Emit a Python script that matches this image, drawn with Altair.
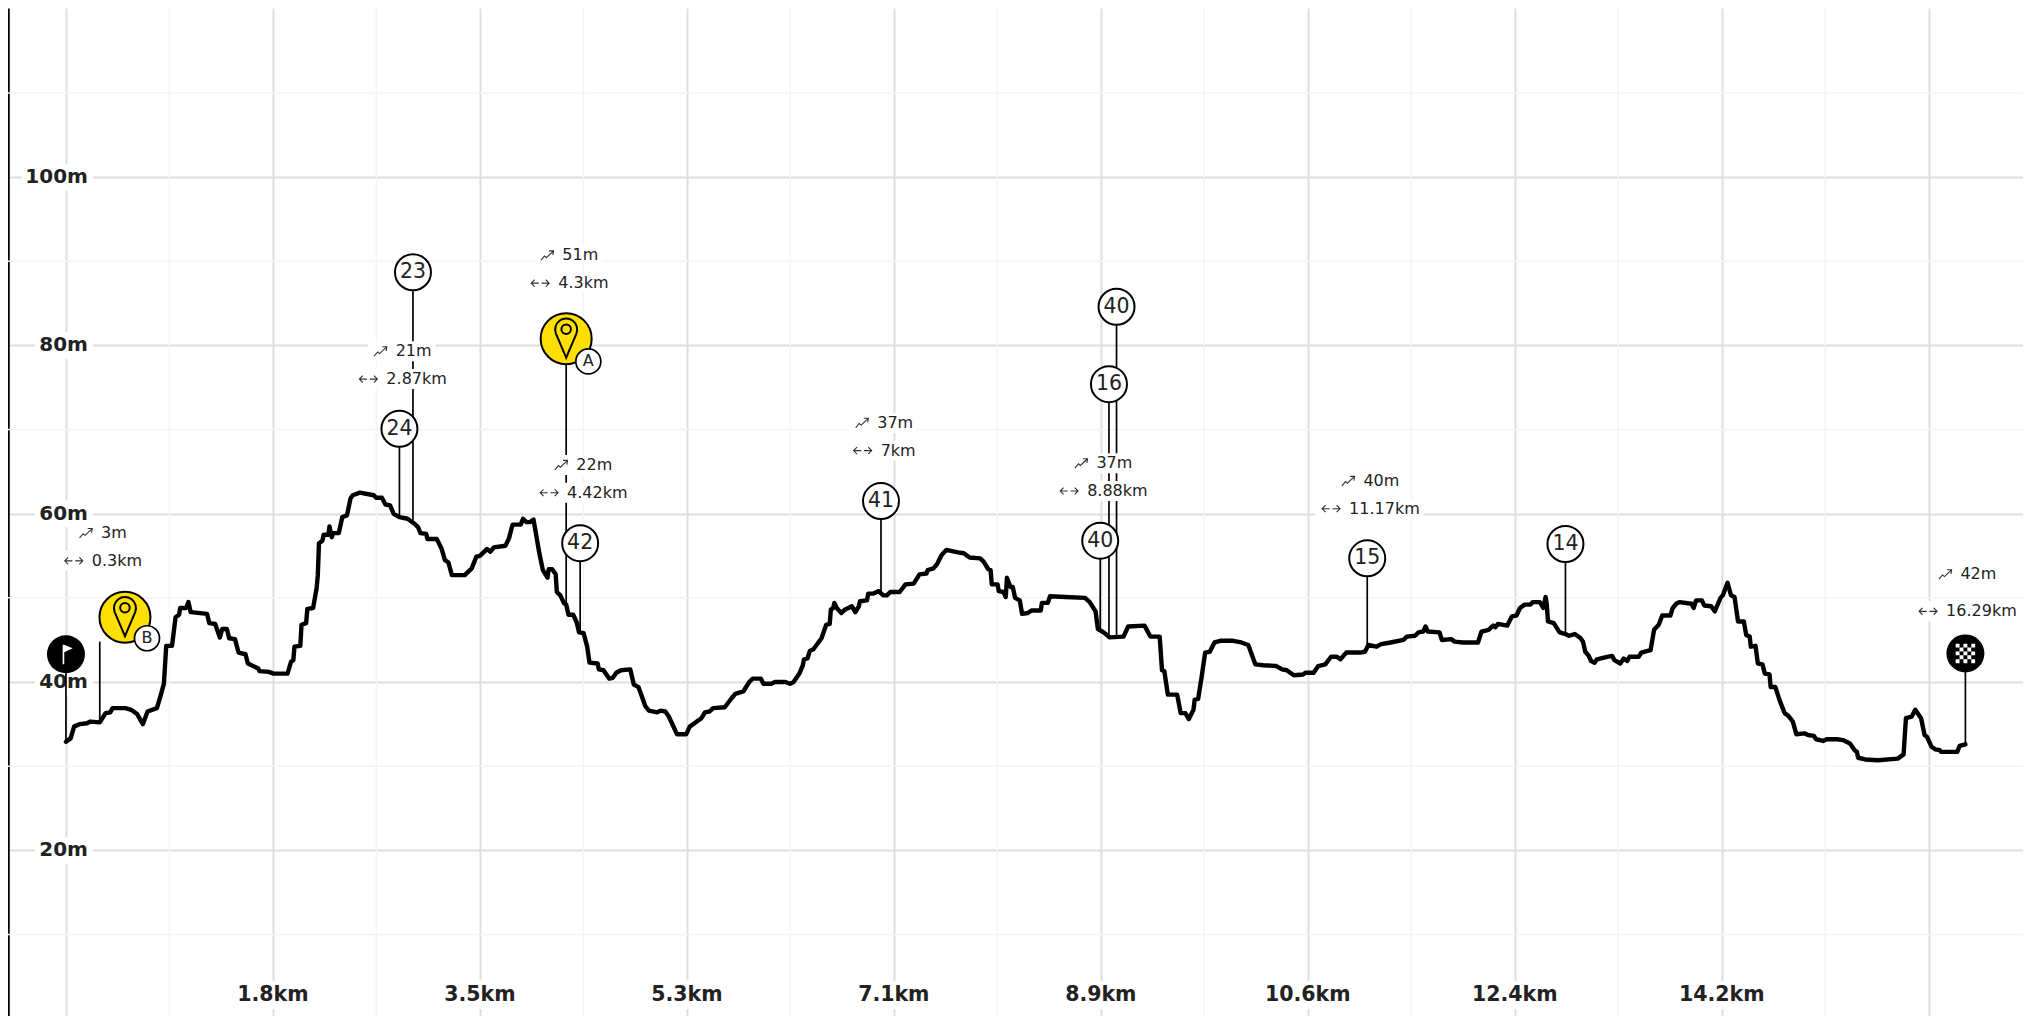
import altair as alt
import pandas as pd

FONT = "DejaVu Sans"
INK = "#222222"

# ---- elevation profile: distance (km) and elevation (m) ----
profile_km = [
0,.04,.07,.12,.18,.21,.29,.34,.38,.40,.51,.56,.61,.66,.70,.78,.81,.84,.86,.91,.94,.97,.98,1.03,1.05,1.07,1.21,1.23,1.28,1.32,1.34,1.38,1.40,1.45,1.48,1.54,1.56,1.65,1.66,1.74,1.78,1.90,1.93,1.95,1.96,2.01,2.02,2.06,2.07,2.12,2.15,2.16,2.17,2.20,2.21,2.25,2.26,2.28,2.29,2.34,2.37,2.41,2.44,2.46,2.52,2.64,2.66,2.71,2.74,2.78,2.81,2.86,2.93,2.98,3.02,3.04,3.09,3.10,3.18,3.22,3.25,3.28,3.31,3.42,3.48,3.52,3.55,3.61,3.64,3.67,3.77,3.80,3.83,3.90,3.92,3.95,3.98,4.01,4.03,4.06,4.09,4.13,4.14,4.17,4.20,4.21,4.24,4.27,4.29,4.31,4.35,4.38,4.40,4.44,4.47,4.49,4.56,4.57,4.61,4.66,4.69,4.72,4.76,4.84,4.87,4.91,4.97,5.0,5.07,5.10,5.14,5.17,5.24,5.32,5.35,5.41,5.45,5.48,5.52,5.55,5.65,5.71,5.74,5.81,5.86,5.89,5.96,5.98,6.05,6.08,6.17,6.21,6.24,6.27,6.29,6.32,6.33,6.36,6.38,6.41,6.48,6.52,6.55,6.56,6.58,6.59,6.61,6.65,6.68,6.74,6.77,6.80,6.81,6.87,6.88,6.92,6.97,7.01,7.04,7.07,7.15,7.20,7.27,7.32,7.38,7.39,7.44,7.47,7.51,7.55,7.65,7.70,7.75,7.84,7.87,7.91,7.93,7.94,7.99,8.0,8.04,8.06,8.07,8.10,8.12,8.14,8.18,8.20,8.25,8.28,8.36,8.37,8.42,8.44,8.57,8.74,8.78,8.83,8.85,8.90,8.95,9.07,9.11,9.25,9.30,9.38,9.40,9.42,9.45,9.53,9.56,9.60,9.63,9.67,9.68,9.71,9.74,9.77,9.81,9.85,9.90,10.01,10.08,10.14,10.20,10.27,10.38,10.43,10.47,10.53,10.61,10.63,10.70,10.74,10.80,10.85,10.90,10.93,10.98,11.10,11.14,11.17,11.24,11.28,11.36,11.47,11.50,11.57,11.60,11.64,11.66,11.68,11.78,11.80,11.88,11.91,11.98,12.11,12.14,12.20,12.24,12.26,12.28,12.36,12.40,12.44,12.47,12.51,12.56,12.58,12.64,12.67,12.69,12.70,12.71,12.76,12.81,12.86,12.89,12.94,12.99,13.01,13.03,13.06,13.08,13.11,13.13,13.19,13.26,13.28,13.33,13.36,13.39,13.41,13.49,13.51,13.59,13.62,13.66,13.69,13.76,13.78,13.81,13.84,13.94,13.96,13.98,14.03,14.05,14.11,14.14,14.19,14.21,14.25,14.28,14.31,14.34,14.39,14.41,14.44,14.45,14.49,14.51,14.55,14.57,14.61,14.62,14.66,14.70,14.74,14.77,14.81,14.84,14.91,14.94,14.99,15.01,15.07,15.10,15.19,15.24,15.30,15.34,15.36,15.37,15.43,15.54,15.71,15.76,15.78,15.83,15.86,15.89,15.91,15.94,15.96,16.0,16.03,16.07,16.08,16.22,16.24,16.29]
profile_m = [
32.9,33.3,34.7,35.0,35.1,35.3,35.2,36.3,36.4,36.9,36.9,36.7,36.2,35.0,36.5,36.9,38.3,39.8,44.3,44.3,47.7,48.0,48.8,48.8,49.5,48.3,48.1,47.0,46.9,45.3,46.3,46.3,45.2,45.1,43.5,43.3,42.2,41.6,41.3,41.2,41.0,41.0,42.4,42.6,44.2,44.3,46.8,47.0,48.7,48.8,51.2,52.7,56.5,56.8,57.5,57.5,58.5,57.2,57.7,57.7,59.6,59.8,61.8,62.2,62.5,62.2,61.9,61.9,61.1,61.0,60.0,59.6,59.4,58.9,58.4,57.7,57.6,57.0,57.0,55.9,54.5,54.2,52.7,52.7,53.5,54.9,55.0,55.8,55.5,56.0,56.2,57.1,58.7,58.7,59.4,59.0,59.0,59.3,57.7,55.3,53.3,52.4,53.4,53.4,52.8,50.7,50.3,49.4,49.2,48.0,48.0,47.1,45.9,45.8,44.2,42.3,42.2,41.5,41.4,40.4,40.5,41.1,41.4,41.5,39.7,39.4,37.1,36.6,36.4,36.6,36.5,35.9,33.8,33.8,34.7,35.3,35.7,36.4,36.5,36.9,37.0,38.1,38.6,38.9,40.0,40.4,40.4,39.8,39.8,40.0,40.0,39.8,40.0,40.6,41.0,42.0,42.7,42.8,43.7,43.9,45.2,46.8,46.9,48.6,48.8,49.4,48.8,48.2,48.6,49.0,48.3,49.0,49.6,49.7,50.5,50.5,50.8,50.3,50.3,50.7,50.7,51.6,51.7,52.8,52.9,53.3,53.5,54.0,55.1,55.7,55.4,55.3,54.8,54.7,54.3,53.4,53.3,51.6,51.6,50.8,50.7,50.1,52.4,51.3,51.3,50.0,49.7,48.1,48.2,48.5,48.5,49.4,49.4,50.2,50.1,50.0,49.5,48.4,46.3,45.9,45.3,45.4,46.6,46.7,45.4,45.4,41.4,41.3,38.5,38.5,36.3,36.3,35.6,36.7,37.9,38.0,40.6,43.5,43.6,44.7,44.9,44.9,44.7,44.4,42.1,42.0,41.9,41.5,41.4,40.8,40.9,41.1,41.1,41.9,42.1,43.0,43.0,42.7,43.5,43.5,43.6,44.4,44.2,44.5,44.7,45.0,45.4,45.5,45.9,46.0,46.6,46.0,45.9,45.0,45.1,44.8,44.7,44.7,46.0,46.2,46.7,46.5,46.9,46.7,47.8,47.9,48.8,49.2,49.2,49.5,49.5,48.8,50.1,49.2,47.2,47.0,45.9,45.7,45.5,45.7,45.2,44.8,43.6,43.1,42.5,42.3,42.7,42.9,43.1,42.6,42.2,42.8,42.5,43.0,43.0,43.5,43.8,46.2,46.8,47.9,47.9,48.8,49.3,49.5,49.3,48.8,49.7,49.7,49.1,49.0,48.4,50.0,50.3,51.8,50.3,50.1,47.2,47.2,45.6,45.4,44.2,44.3,42.2,42.1,41.0,40.9,39.4,39.4,37.7,36.3,36.0,35.3,33.8,33.9,33.7,33.6,33.2,33.0,33.2,33.2,33.1,32.7,31.9,31.7,31.0,30.8,30.7,30.9,31.4,35.7,35.9,36.7,36.1,35.7,33.7,33.5,32.3,32.0,31.9,31.7,31.7,32.4,32.6]

# ---- axes ----
x_ticks = [0, 1.775, 3.55, 5.325, 7.1, 8.875, 10.65, 12.425, 14.2, 15.975]
x_label_km = [1.775, 3.55, 5.325, 7.1, 8.875, 10.65, 12.425, 14.2]
x_label_text = ["1.8km", "3.5km", "5.3km", "7.1km", "8.9km", "10.6km", "12.4km", "14.2km"]
x_minor = [0.8875, 2.6625, 4.4375, 6.2125, 7.9875, 9.7625, 11.5375, 13.3125, 15.0875]
y_ticks = [20, 40, 60, 80, 100]
y_label_text = ["20m", "40m", "60m", "80m", "100m"]
y_minor = [10, 30, 50, 70, 90, 110]

# ---- numbered waypoints: label, distance, marker elevation, ground elevation ----
num_labels = ["23", "24", "42", "41", "40", "16", "40", "15", "14"]
num_km = [2.976, 2.86, 4.41, 6.99, 8.87, 8.945, 9.01, 11.16, 12.86]
num_m = [88.7, 70.1, 56.5, 61.5, 56.8, 75.4, 84.6, 54.7, 56.4]
num_base = [58.9, 59.6, 45.9, 50.6, 46.2, 45.4, 45.4, 44.4, 45.7]

# ---- start / finish / A / B markers ----
start = {"km": 0.0, "m": 43.3, "base": 32.9}
finish = {"km": 16.29, "m": 43.4, "base": 32.6}
pin_names = ["A", "B"]
pin_km = [4.29, 0.506]
pin_m = [80.8, 47.7]
pin_stem_km = [4.29, 0.29]
pin_stem_top = [80.8, 44.8]
pin_stem_base = [49.2, 35.2]
badge_km = [4.48, 0.695]
badge_m = [78.1, 45.2]

# ---- gain / distance notes ----
note_gain = ["3m", "21m", "51m", "22m", "37m", "37m", "40m", "42m"]
note_dist = ["0.3km", "2.87km", "4.3km", "4.42km", "7km", "8.88km", "11.17km", "16.29km"]
note_km = [0.3, 2.87, 4.3, 4.42, 7.0, 8.88, 11.17, 16.29]
note_gain_m = [57.7, 79.3, 90.7, 65.8, 70.8, 66.0, 63.9, 52.8]
note_dist_m = [54.4, 76.0, 87.4, 62.5, 67.5, 62.7, 60.6, 48.4]

PX_PER_KM = 116.6
PX_PER_M = 8.415
FS = 16
CHAR_W = {"k": .579, "m": .974, ".": .318}


def text_w(s):
    return sum(CHAR_W.get(c, .636) for c in s) * FS


rows = []
for gain, dist, km, gm, dm in zip(note_gain, note_dist, note_km, note_gain_m, note_dist_m):
    for txt, m, iw, kind in ((gain, gm, 12, "gain"), (dist, dm, 18, "dist")):
        w = iw + 10 + text_w(txt)
        rows.append({
            "text": txt,
            "kind": kind,
            "m": m,
            "m_lo": m - 10 / PX_PER_M,
            "m_hi": m + 10 / PX_PER_M,
            "bg_lo": km + (1 - w / 2 - 5) / PX_PER_KM,
            "bg_hi": km + (1 + w / 2 + 5) / PX_PER_KM,
            "text_km": km + (2 - w / 2 + iw + 10) / PX_PER_KM,
            "icon_km": km + (3 - w / 2 + iw / 2) / PX_PER_KM,
        })
notes = pd.DataFrame(rows)

profile = pd.DataFrame({"km": profile_km, "m": profile_m})
nums = pd.DataFrame({"label": num_labels, "km": num_km, "m": num_m, "base": num_base})
ends = pd.DataFrame([start, finish])
pins = pd.DataFrame({"name": pin_names, "km": pin_km, "m": pin_m, "sk": pin_stem_km,
                     "st": pin_stem_top, "sb": pin_stem_base, "bk": badge_km, "bm": badge_m})

# tick labels sit inside the plot on white boxes that interrupt the grid
Y_LABEL_RIGHT_KM = (88 - 66) / PX_PER_KM
X_LABEL_M = (1018.6 - 995) / PX_PER_M
ylab = pd.DataFrame({"text": y_label_text, "m": y_ticks, "km": [Y_LABEL_RIGHT_KM] * len(y_ticks)})
xlab = pd.DataFrame({"text": x_label_text, "km": x_label_km, "m": [X_LABEL_M] * len(x_label_km)})
ylab_bg = pd.DataFrame([
    {"lo": ((22 if v == 100 else 35) - 66) / PX_PER_KM,
     "hi": (93 - 66) / PX_PER_KM, "m_lo": v - 13.5 / PX_PER_M, "m_hi": v + 13.5 / PX_PER_M}
    for v in y_ticks
])
xlab_bg = pd.DataFrame([
    {"lo": k - 42 / PX_PER_KM, "hi": k + 42 / PX_PER_KM, "m_lo": X_LABEL_M - 1.7, "m_hi": X_LABEL_M + 1.7}
    for k in x_label_km
])

x_scale = alt.Scale(domain=[-0.497, 16.784], nice=False, zero=False)
y_scale = alt.Scale(domain=[0.31, 120.1], nice=False, zero=False)

x_axis = alt.Axis(values=x_ticks, grid=True, gridColor="#dedede", gridWidth=2, domain=False, ticks=False,
                  labels=False, title=None)
y_axis = alt.Axis(values=y_ticks, grid=True, gridColor="#dedede", gridWidth=2, domain=True, domainColor="#000000",
                  domainWidth=2.5, ticks=False, labels=False, title=None)


def X(f="km"):
    return alt.X(f"{f}:Q", scale=x_scale, axis=x_axis)


def Y(f="m"):
    return alt.Y(f"{f}:Q", scale=y_scale, axis=y_axis)


minor_v = alt.Chart(pd.DataFrame({"km": x_minor})).mark_rule(color="#f4f4f4", strokeWidth=1.5).encode(x=X())
minor_h = alt.Chart(pd.DataFrame({"m": y_minor})).mark_rule(color="#f4f4f4", strokeWidth=1.5).encode(y=Y())

white = dict(color="white", opacity=1, strokeWidth=0)
ybox = alt.Chart(ylab_bg).mark_rect(**white).encode(x=X("lo"), x2="hi:Q", y=Y("m_lo"), y2="m_hi:Q")
xbox = alt.Chart(xlab_bg).mark_rect(**white).encode(x=X("lo"), x2="hi:Q", y=Y("m_lo"), y2="m_hi:Q")
ytext = alt.Chart(ylab).mark_text(font=FONT, fontSize=20, fontWeight="bold", color=INK, align="right",
                                  baseline="middle").encode(x=X(), y=Y(), text="text:N")
xtext = alt.Chart(xlab).mark_text(font=FONT, fontSize=20.5, fontWeight="bold", color=INK, align="center",
                                  baseline="middle").encode(x=X(), y=Y(), text="text:N")

STEM = dict(color="#000000", strokeWidth=1.7)
num_stems = alt.Chart(nums).mark_rule(**STEM).encode(x=X(), y=Y(), y2="base:Q")
end_stems = alt.Chart(ends).mark_rule(**STEM).encode(x=X(), y=Y(), y2="base:Q")
pin_stems = alt.Chart(pins).mark_rule(**STEM).encode(x=X("sk"), y=Y("st"), y2="sb:Q")

line = alt.Chart(profile).mark_line(color="#000000", strokeWidth=4.4, strokeJoin="round", strokeCap="round").encode(
    x=X(), y=Y(), order=alt.Order("km:Q"))

num_dots = alt.Chart(nums).mark_point(shape="circle", filled=True, fill="white", stroke="#000000",
                                      strokeWidth=2, size=1296, opacity=1).encode(x=X(), y=Y())
num_text = alt.Chart(nums).mark_text(font=FONT, fontSize=20.5, color=INK, baseline="middle", align="center").encode(
    x=X(), y=Y(), text="label:N")

end_dots = alt.Chart(ends).mark_point(shape="circle", filled=True, fill="#000000", strokeWidth=0, size=1444,
                                      opacity=1).encode(x=X(), y=Y())

FLAG = "M-0.33,-0.95 L-0.17,-0.95 L0.67,-0.6 L-0.17,-0.2 L-0.17,1 L-0.33,1 Z"
flag = alt.Chart(ends.iloc[[0]]).mark_point(shape=FLAG, filled=True, fill="white", strokeWidth=0, size=400,
                                            opacity=1).encode(x=X(), y=Y())

CELLS = 5
STEP = 2 / CELLS
CHECK = " ".join(
    f"M{-1 + i * STEP:.3f},{-1 + j * STEP:.3f} h{STEP:.3f} v{STEP:.3f} h{-STEP:.3f} Z"
    for i in range(CELLS) for j in range(CELLS) if (i + j) % 2 == 0
)
check = alt.Chart(ends.iloc[[1]]).mark_point(shape=CHECK, filled=True, fill="white", strokeWidth=0, size=380,
                                             opacity=1).encode(x=X(), y=Y())

pin_dots = alt.Chart(pins).mark_point(shape="circle", filled=True, fill="#ffdf00", stroke="#000000", strokeWidth=2,
                                      size=2601, opacity=1).encode(x=X(), y=Y())
PIN = ("M0,1 L-0.54,-0.27 A0.58,0.58 0 1 1 0.54,-0.27 Z "
       "M0.25,-0.5 A0.25,0.25 0 1 1 -0.25,-0.5 A0.25,0.25 0 1 1 0.25,-0.5 Z")
pin_icons = alt.Chart(pins).mark_point(shape=PIN, filled=False, stroke="#000000", strokeWidth=2, size=1444,
                                       opacity=1).encode(x=X(), y=Y())
badge_dots = alt.Chart(pins).mark_point(shape="circle", filled=True, fill="white", stroke="#000000", strokeWidth=1.7,
                                        size=625, opacity=1).encode(x=X("bk"), y=Y("bm"))
badge_text = alt.Chart(pins).mark_text(font=FONT, fontSize=16, color=INK, baseline="middle", align="center").encode(
    x=X("bk"), y=Y("bm"), text="name:N")

note_bg = alt.Chart(notes).mark_rect(**white).encode(x=X("bg_lo"), x2="bg_hi:Q", y=Y("m_lo"), y2="m_hi:Q")
note_text = alt.Chart(notes).mark_text(font=FONT, fontSize=FS, color=INK, baseline="middle", align="left").encode(
    x=X("text_km"), y=Y(), text="text:N")

TREND = "M-1,0.75 L-0.45,0.1 L-0.15,0.35 L0.9,-0.65 M0.25,-0.7 L0.95,-0.7 L0.85,-0.05"
ARROWS = ("M-1,0 L-0.15,0 M-0.62,-0.38 L-1,0 L-0.62,0.38 "
          "M0.15,0 L1,0 M0.62,-0.38 L1,0 L0.62,0.38")
icon_style = dict(filled=False, stroke="#333333", strokeWidth=1.1, opacity=1)
trend_icons = alt.Chart(notes[notes.kind == "gain"]).mark_point(shape=TREND, size=169, **icon_style).encode(
    x=X("icon_km"), y=Y())
arrow_icons = alt.Chart(notes[notes.kind == "dist"]).mark_point(shape=ARROWS, size=324, **icon_style).encode(
    x=X("icon_km"), y=Y())

chart = alt.layer(
    minor_v, minor_h, ybox, xbox, ytext, xtext,
    num_stems, end_stems, pin_stems, line,
    note_bg, note_text, trend_icons, arrow_icons,
    num_dots, num_text, end_dots, flag, check,
    pin_dots, pin_icons, badge_dots, badge_text,
).properties(
    width=2015, height=1008, padding=0, background="white",
    autosize=alt.AutoSizeParams(type="none"),
).configure_view(strokeWidth=0)

chart.save("out.html", embed_options={"renderer": "svg", "actions": False})
